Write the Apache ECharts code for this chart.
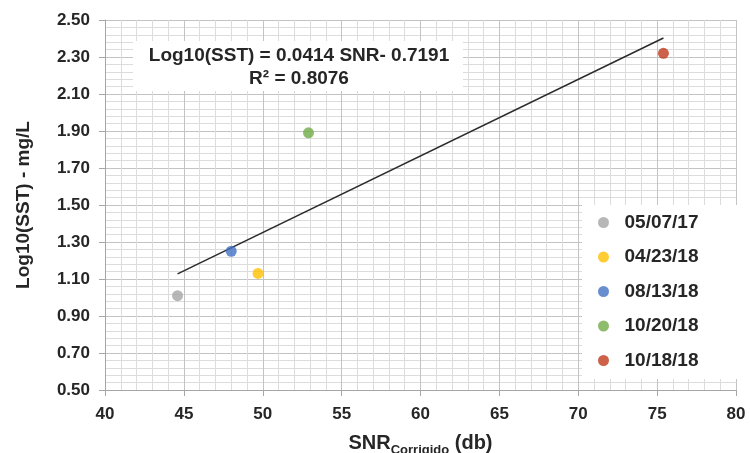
<!DOCTYPE html>
<html>
<head>
<meta charset="utf-8">
<script src="https://cdn.jsdelivr.net/npm/echarts@6/dist/echarts.min.js"></script>
<style>
	html, body { margin: 0; padding: 0; background: #fff; }
	#chart { width: 750px; height: 453px; }
</style>
</head>
<body>
<div id="chart"></div>
<script>
	// Data
	const dates = ['05/07/17', '04/23/18', '08/13/18', '10/20/18', '10/18/18'];
	const snrValues = [44.6, 49.7, 48.0, 52.9, 75.4];
	const logSstValues = [1.01, 1.13, 1.25, 1.89, 2.32];
	const pointColors = ['#a5a5a5', '#ffc000', '#4472c4', '#70ad47', '#c0391b'];

	// Trendline from the equation in the chart
	const slope = 0.0414;
	const intercept = -0.7191;
	const rSquared = 0.8076;

	let chart = echarts.init(document.getElementById('chart'));

	let xMin = Math.min(...snrValues);
	let xMax = Math.max(...snrValues);
	let trendData = [
		[xMin, slope * xMin + intercept],
		[xMax, slope * xMax + intercept]
	];

	let series = dates.map(function (d, i) {
		return {
			name: d,
			type: 'scatter',
			symbol: 'circle',
			symbolSize: 11,
			itemStyle: { color: pointColors[i] },
			data: [[snrValues[i], logSstValues[i]]],
			z: 3
		};
	});

	series.push({
		name: 'trend',
		type: 'line',
		data: trendData,
		symbol: 'none',
		lineStyle: { color: '#2b2b2b', width: 1.5 },
		silent: true,
		z: 2
	});

	const labelFont = 'Liberation Sans, Arial, sans-serif';
	const textColor = '#262626';

	chart.setOption({
		animation: false,
		textStyle: { fontFamily: labelFont },
		grid: { left: 105, right: 14, top: 20, bottom: 63, outerBoundsMode: 'none' },
		legend: {
			data: dates,
			orient: 'vertical',
			left: 582,
			top: 205,
			padding: [8, 41, 9, 16],
			itemGap: 15.5,
			icon: 'circle',
			itemWidth: 32,
			itemHeight: 11,
			symbolKeepAspect: true,
			backgroundColor: '#ffffff',
			textStyle: { fontSize: 19, fontWeight: 'bold', color: textColor, fontFamily: labelFont }
		},
		graphic: [
			{
				type: 'rect',
				left: 133,
				top: 41,
				shape: { width: 330, height: 50 },
				style: { fill: '#ffffff' },
				z: 10
			},
			{
				type: 'text',
				x: 299,
				y: 44,
				z: 11,
				style: {
					text: 'Log10(SST) = ' + slope + ' SNR- ' + Math.abs(intercept) + '\nR² = ' + rSquared,
					align: 'center',
					font: 'bold 19px ' + labelFont,
					fill: textColor,
					lineHeight: 23
				}
			}
		],
		xAxis: {
			type: 'value',
			min: 40,
			max: 80,
			interval: 5,
			name: '{a|SNR}{b|Corrigido}{a| (db)}',
			nameLocation: 'middle',
			nameGap: 43,
			nameTextStyle: {
				rich: {
					a: { fontSize: 20, fontWeight: 'bold', color: textColor, fontFamily: labelFont, verticalAlign: 'bottom' },
					b: { fontSize: 13, fontWeight: 'bold', color: textColor, fontFamily: labelFont, verticalAlign: 'bottom', padding: [0, 0, -4, 0] }
				}
			},
			axisLine: { show: true, lineStyle: { color: '#a6a6a6' } },
			axisTick: { show: true, length: 6, lineStyle: { color: '#a6a6a6' } },
			axisLabel: { fontSize: 17, fontWeight: 'bold', color: textColor, margin: 16 },
			splitLine: { show: true, lineStyle: { color: '#c3c3c3' } },
			minorTick: { show: false, splitNumber: 5 },
			minorSplitLine: { show: true, lineStyle: { color: '#dcdcdc' } }
		},
		yAxis: {
			type: 'value',
			min: 0.5,
			max: 2.5,
			interval: 0.2,
			name: 'Log10(SST) - mg/L',
			nameLocation: 'middle',
			nameGap: 72,
			nameTextStyle: { fontSize: 19, fontWeight: 'bold', color: textColor },
			axisLine: { show: true, lineStyle: { color: '#a6a6a6' } },
			axisTick: { show: true, length: 6, lineStyle: { color: '#a6a6a6' } },
			axisLabel: {
				fontSize: 17,
				fontWeight: 'bold',
				color: textColor,
				margin: 15,
				formatter: function (v) { return v.toFixed(2); }
			},
			splitLine: { show: true, lineStyle: { color: '#c3c3c3' } },
			minorTick: { show: false, splitNumber: 5 },
			minorSplitLine: { show: true, lineStyle: { color: '#dcdcdc' } }
		},
		series: series
	});
</script>
</body>
</html>
